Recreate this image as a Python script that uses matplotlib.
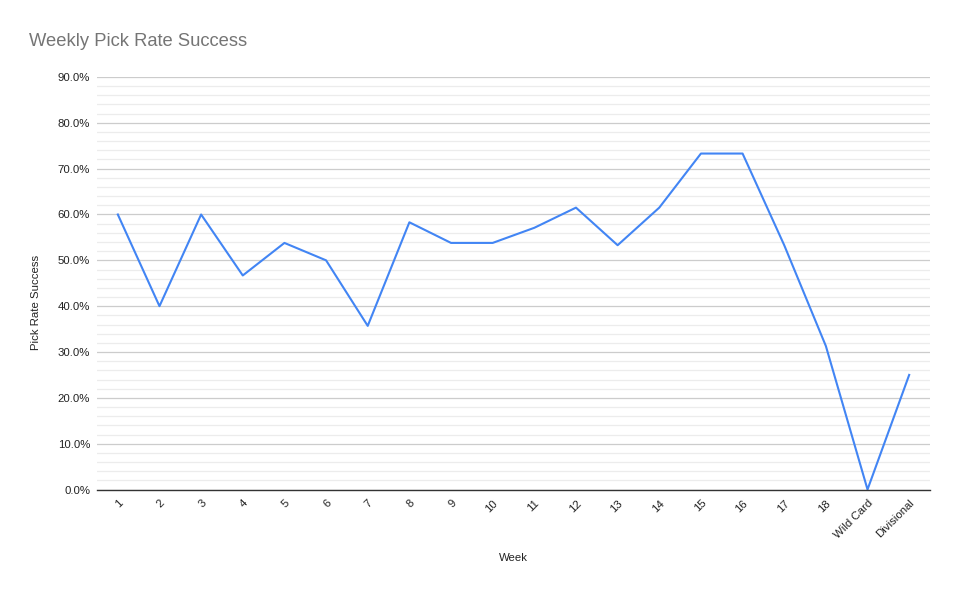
import matplotlib
matplotlib.use("Agg")
import matplotlib.pyplot as plt
from matplotlib.ticker import MultipleLocator, PercentFormatter

plt.rcParams["font.family"] = ["Liberation Sans", "DejaVu Sans"]

semanas = ["1", "2", "3", "4", "5", "6", "7", "8", "9", "10", "11", "12",
           "13", "14", "15", "16", "17", "18", "Wild Card", "Divisional"]
tasa_acierto = [60.0, 40.0, 60.0, 46.7, 53.8, 50.0, 35.7, 58.3, 53.8, 53.8,
                57.1, 61.5, 53.3, 61.5, 73.3, 73.3, 53.3, 31.3, 0.0, 25.0]

fig = plt.figure(figsize=(9.6, 5.94), dpi=100)
ax = fig.add_axes([97 / 960, 1 - 489.5 / 594, 833 / 960, 412.5 / 594])

posiciones = list(range(len(semanas)))
ax.plot(posiciones, tasa_acierto, color="#4285f4", linewidth=1.5)

ax.set_xlim(-0.5, len(semanas) - 0.5)
ax.set_ylim(0, 90)
ax.yaxis.set_major_locator(MultipleLocator(10))
ax.yaxis.set_minor_locator(MultipleLocator(2))
ax.yaxis.set_major_formatter(PercentFormatter(decimals=1))
ax.grid(which="major", axis="y", color="#cccccc", linewidth=0.9)
ax.grid(which="minor", axis="y", color="#ececec", linewidth=0.9)
ax.set_axisbelow(True)

ax.set_xticks(posiciones)
ax.set_xticklabels(semanas, rotation=45, ha="right", rotation_mode="anchor")
ax.tick_params(axis="both", length=0, labelsize=8.2, labelcolor="#222222")
ax.tick_params(axis="x", pad=6)
ax.tick_params(axis="y", pad=5)
ax.tick_params(axis="y", which="minor", length=0)

for lado in ["top", "right", "left"]:
    ax.spines[lado].set_visible(False)
ax.spines["bottom"].set_color("#333333")
ax.spines["bottom"].set_linewidth(1.0)

fig.text(29 / 960, 1 - 41 / 594, "Weekly Pick Rate Success", fontsize=13.2,
         color="#757575", va="center", ha="left")
fig.text(36 / 960, 1 - 302 / 594, "Pick Rate Success", fontsize=8.2,
         color="#222222", rotation=90, va="center", ha="center")
fig.text(513 / 960, 1 - 558 / 594, "Week", fontsize=8.2, color="#222222",
         va="center", ha="center")

fig.savefig("out.png", dpi=100)
